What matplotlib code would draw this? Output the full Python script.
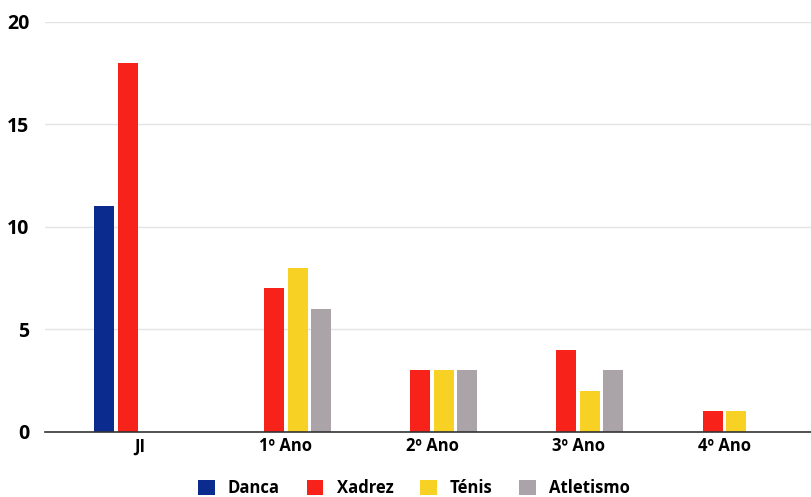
import numpy as np
import matplotlib.pyplot as plt

categorias = ['JI', '1º Ano', '2º Ano', '3º Ano', '4º Ano']
danca = [11, 0, 0, 0, 0]
xadrez = [18, 7, 3, 4, 1]
tenis = [0, 8, 3, 2, 1]
atletismo = [0, 6, 3, 3, 0]

series = [('Danca', danca, '#0b2b8f'),
          ('Xadrez', xadrez, '#f7231b'),
          ('Ténis', tenis, '#f7d225'),
          ('Atletismo', atletismo, '#aaa4a9')]

plt.rcParams['font.family'] = ['Open Sans', 'DejaVu Sans']
plt.rcParams['font.weight'] = 'bold'

fig = plt.figure(figsize=(8.12, 4.97), dpi=100)
ax = fig.add_axes([0.055, 0.131, 0.945, 0.825])

x = np.arange(len(categorias))
step = 0.161
width = 0.137
for i, (nome, vals, cor) in enumerate(series):
    ax.bar(x + (i - 1.5) * step, vals, width, color=cor, label=nome, zorder=3)

ax.set_xlim(-0.65, 4.6)
ax.set_ylim(0, 20)
ax.set_yticks([0, 5, 10, 15, 20])
ax.set_xticks(x)
ax.set_xticklabels(categorias, fontsize=12, fontweight='bold')
ax.tick_params(axis='y', labelsize=14, length=0, pad=11)
ax.tick_params(axis='x', length=0, pad=4)
ax.grid(axis='y', color='#e4e4e4', linewidth=1, zorder=0)
for s in ['top', 'right', 'left']:
    ax.spines[s].set_visible(False)
ax.spines['bottom'].set_color('#333333')
ax.spines['bottom'].set_linewidth(1.2)
ax.spines['bottom'].set_zorder(4)

fig.legend(loc='lower center', bbox_to_anchor=(0.51, -0.03), ncol=4, frameon=False,
           prop={'size': 12, 'weight': 'bold'}, handlelength=1.0, handleheight=1.0,
           columnspacing=1.6, handletextpad=0.8)

fig.savefig('out.png', dpi=100)
